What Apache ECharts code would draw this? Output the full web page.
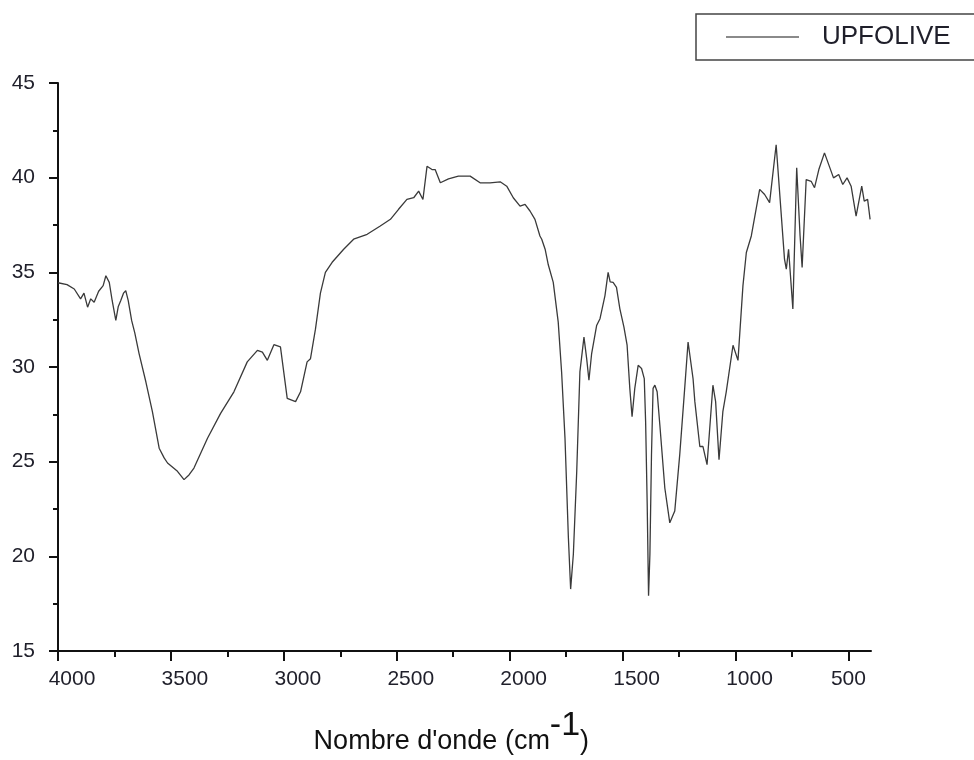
<!DOCTYPE html>
<html>
<head>
<meta charset="utf-8">
<script src="https://cdn.jsdelivr.net/npm/echarts@6/dist/echarts.min.js"></script>
<style>
  html, body { margin: 0; padding: 0; background: #fff; }
  #root { width: 974px; height: 760px; }
</style>
</head>
<body>
<div id="root"></div>
<script>
// wavenumber (cm-1), high to low
const waveNumbers = [
  4000, 3994, 3960, 3928, 3900, 3885, 3869, 3855, 3840, 3820, 3800, 3788, 3773, 3760, 3744,
  3733, 3722, 3710, 3700, 3689, 3674, 3660, 3641, 3611, 3582, 3552, 3530, 3515, 3471, 3442,
  3420, 3398, 3338, 3280, 3221, 3162, 3117, 3095, 3073, 3044, 3015, 2985, 2948, 2926, 2897,
  2882, 2860, 2838, 2816, 2786, 2735, 2691, 2631, 2573, 2528, 2492, 2455, 2425, 2403, 2384,
  2378, 2366, 2359, 2344, 2330, 2307, 2271, 2227, 2175, 2131, 2087, 2042, 2013, 1984, 1954,
  1932, 1910, 1888, 1866, 1858, 1843, 1829, 1807, 1785, 1770, 1755, 1740, 1730, 1718, 1703,
  1689, 1671, 1659, 1649, 1637, 1615, 1600, 1578, 1564, 1555, 1542, 1527, 1512, 1494, 1480,
  1468, 1458, 1446, 1431, 1416, 1404, 1398, 1391, 1385, 1379, 1372, 1365, 1357, 1347, 1335,
  1313, 1291, 1269, 1247, 1225, 1210, 1188, 1180, 1158, 1144, 1126, 1100, 1088, 1073, 1056,
  1041, 1011, 989, 967, 952, 930, 893, 871, 849, 820, 783, 775, 765, 746, 729,
  714, 705, 687, 665, 650, 631, 606, 566, 543, 525, 506, 488, 466, 441, 430,
  415, 404
];

// UPFOLIVE transmittance
const upfolive = [
  34.45, 34.47, 34.35, 34.12, 33.6, 33.9, 33.16, 33.6, 33.42, 34.0, 34.3, 34.82, 34.47, 33.5, 32.46,
  33.2, 33.51, 33.9, 34.03, 33.51, 32.46, 31.8, 30.71, 29.22, 27.64, 25.71, 25.2, 24.93, 24.49, 24.05,
  24.3, 24.66, 26.24, 27.55, 28.69, 30.27, 30.88, 30.79, 30.35, 31.18, 31.06, 28.34, 28.17, 28.69, 30.27,
  30.44, 32.0, 33.9, 35.0, 35.53, 36.22, 36.75, 37.01, 37.45, 37.8, 38.33, 38.85, 38.94, 39.29, 38.85,
  38.8, 40.6, 40.69, 40.43, 40.43, 39.73, 39.94, 40.08, 40.08, 39.73, 39.73, 39.78, 39.55, 38.94, 38.5,
  38.59, 38.24, 37.8, 36.92, 36.75, 36.22, 35.4, 34.47, 32.37, 29.74, 26.24, 20.99, 18.27, 20.11, 24.49,
  29.74, 31.58, 30.44, 29.3, 30.71, 32.19, 32.55, 33.77, 35.0, 34.5, 34.47, 34.21, 33.07, 32.11, 31.15,
  28.87, 27.38, 28.87, 30.09, 29.92, 29.39, 27.12, 22.74, 17.92, 20.11, 25.36, 28.87, 29.04, 28.69, 26.94,
  23.61, 21.77, 22.39, 25.36, 28.87, 31.32, 29.39, 28.17, 25.8, 25.8, 24.84, 29.04, 28.17, 25.1, 27.64,
  28.69, 31.15, 30.35, 34.3, 36.05, 36.92, 39.38, 39.11, 38.68, 41.74, 35.7, 35.17, 36.22, 33.07, 40.52,
  36.92, 35.26, 39.9, 39.81, 39.47, 40.43, 41.31, 39.99, 40.17, 39.64, 39.99, 39.55, 37.97, 39.55, 38.76,
  38.85, 37.8
];

const xMajorTicks = [4000, 3500, 3000, 2500, 2000, 1500, 1000, 500];
const xMinorTicks = [3750, 3250, 2750, 2250, 1750, 1250, 750];

const font = 'Liberation Sans, Arial, sans-serif';
const textColor = '#1f1f2a';

let myChart = echarts.init(document.getElementById('root'));

let option = {
  animation: false,
  backgroundColor: '#fff',
  grid: {
    left: 58,
    right: 103,
    top: 83,
    bottom: 107
  },
  legend: {
    data: [{ name: 'UPFOLIVE', icon: 'rect' }],
    left: 696,
    top: 14,
    padding: [10, 60, 10, 30],
    borderColor: '#444',
    borderWidth: 1.5,
    itemWidth: 73,
    itemHeight: 2,
    itemStyle: { color: '#8a8a8a' },
    textStyle: {
      fontFamily: font,
      fontSize: 26,
      color: textColor,
      padding: [0, 0, 0, 18]
    }
  },
  xAxis: [
    {
      type: 'value',
      inverse: true,
      min: 400,
      max: 4000,
      splitLine: { show: false },
      axisLine: { lineStyle: { color: '#111', width: 2 } },
      axisTick: {
        customValues: xMajorTicks,
        length: 10,
        lineStyle: { color: '#111', width: 2 }
      },
      axisLabel: {
        customValues: xMajorTicks,
        margin: 18,
        formatter: function (v) {
          return v === 500 ? '{n|' + v + '}' : '{p|' + v + '}';
        },
        rich: {
          p: { fontFamily: font, fontSize: 21, color: textColor, padding: [0, 0, 0, 28] },
          n: { fontFamily: font, fontSize: 21, color: textColor }
        }
      },
      name: '{a|Nombre d\'onde (cm}{b|-1}{a|)}{s| }',
      nameLocation: 'middle',
      nameGap: 58,
      nameTextStyle: {
        padding: [0, 26, 0, 0],
        rich: {
          a: { fontFamily: font, fontSize: 27, color: '#111', lineHeight: 27, verticalAlign: 'bottom' },
          b: { fontFamily: font, fontSize: 34, color: '#111', lineHeight: 34, verticalAlign: 'top' },
          s: { fontSize: 1, lineHeight: 46 }
        }
      }
    },
    {
      type: 'value',
      inverse: true,
      min: 400,
      max: 4000,
      position: 'bottom',
      splitLine: { show: false },
      axisLine: { show: false },
      axisLabel: { show: false },
      axisTick: {
        customValues: xMinorTicks,
        length: 6,
        lineStyle: { color: '#111', width: 2 }
      }
    }
  ],
  yAxis: {
    type: 'value',
    min: 15,
    max: 45,
    interval: 5,
    splitLine: { show: false },
    axisLine: { show: true, lineStyle: { color: '#111', width: 2 } },
    axisTick: { show: true, length: 9, lineStyle: { color: '#111', width: 2 } },
    minorTick: { show: true, splitNumber: 2, length: 5, lineStyle: { color: '#111', width: 2 } },
    axisLabel: {
      margin: 23,
      fontFamily: font,
      fontSize: 21,
      color: textColor
    }
  },
  series: [{
    name: 'UPFOLIVE',
    type: 'line',
    xAxisIndex: 0,
    symbol: 'none',
    lineStyle: { color: '#3a3a3a', width: 1.3 },
    itemStyle: { color: '#3a3a3a' },
    data: waveNumbers.map((w, i) => [w, upfolive[i]])
  }]
};

myChart.setOption(option);
</script>
</body>
</html>
